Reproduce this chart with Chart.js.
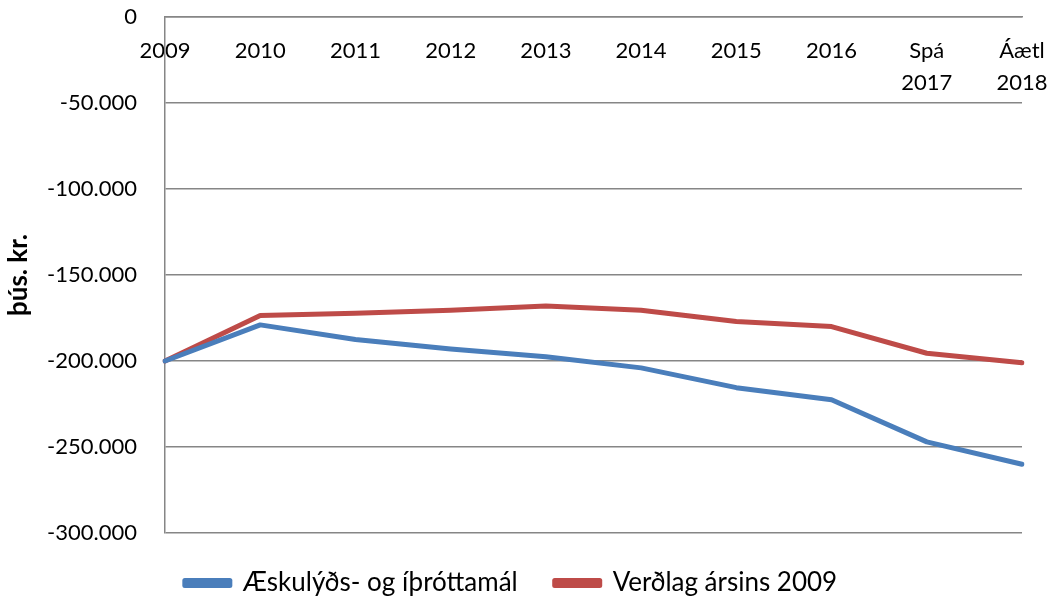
<!DOCTYPE html>
<html>
<head>
<meta charset="utf-8">
<script src="https://cdn.jsdelivr.net/npm/chart.js@4"></script>
<style>
  html, body { margin: 0; padding: 0; background: #fff; }
  #wrap { width: 1051px; height: 600px; }
</style>
</head>
<body>
<div id="wrap"><canvas id="c" width="1051" height="600"></canvas></div>
<script>
const categories = ['2009', '2010', '2011', '2012', '2013', '2014', '2015', '2016', ['Spá', '2017'], ['Áætl', '2018']];
const seriesNames = ['Æskulýðs- og íþróttamál', 'Verðlag ársins 2009'];
const youthSports = [-200000, -179000, -187500, -193000, -197500, -204000, -215500, -222500, -247000, -260000];
const realPrices2009 = [-200000, -173500, -172300, -170500, -168000, -170500, -177000, -180000, -195500, -201000];
const yTicks = [0, -50000, -100000, -150000, -200000, -250000, -300000];
const yTitle = 'þús. kr.';

const FONT = 'Lato, "Open Sans", sans-serif';
const GRID = '#868686';

function fmt(v) {
  const s = Math.abs(v).toString().replace(/\B(?=(\d{3})+(?!\d))/g, '.');
  return (v < 0 ? '-' : '') + s;
}

new Chart(document.getElementById('c'), {
  type: 'line',
  data: {
    labels: categories,
    datasets: [
      { label: seriesNames[0], data: youthSports, borderColor: '#4A7EBB', backgroundColor: '#4A7EBB', borderWidth: 5, pointRadius: 0, tension: 0, borderCapStyle: 'round', borderJoinStyle: 'round' },
      { label: seriesNames[1], data: realPrices2009, borderColor: '#BE4B48', backgroundColor: '#BE4B48', borderWidth: 5, pointRadius: 0, tension: 0, borderCapStyle: 'round', borderJoinStyle: 'round' }
    ]
  },
  options: {
    responsive: false,
    animation: false,
    layout: { padding: { left: 0, right: 29, top: 17, bottom: -6 } },
    plugins: {
      tooltip: { enabled: false },
      legend: {
        position: 'bottom',
        labels: {
          font: { family: FONT, size: 26 },
          color: '#000',
          boxWidth: 45,
          boxHeight: 5,
          padding: 37
        }
      }
    },
    scales: {
      x: {
        type: 'category',
        offset: false,
        position: { y: 0 },
        grid: { display: true, drawOnChartArea: false, drawTicks: true, tickLength: 18, tickColor: 'rgba(0,0,0,0)' },
        border: { display: true, color: GRID, width: 1.5 },
        ticks: {
          font: { family: FONT, size: 22, lineHeight: 1.45 },
          color: '#000',
          padding: 0,
          maxRotation: 0,
          autoSkip: false
        }
      },
      y: {
        min: -300000,
        max: 0,
        afterFit(scale) { scale.width = 165; },
        afterBuildTicks(scale) { scale.ticks = yTicks.map(v => ({ value: v })); },
        grid: { color: GRID, lineWidth: 1.5, drawTicks: true, tickLength: 28, tickColor: 'rgba(0,0,0,0)' },
        border: { display: true, color: GRID, width: 1.5 },
        ticks: {
          font: { family: FONT, size: 22 },
          color: '#000',
          padding: 0,
          callback: (v) => fmt(v)
        },
        title: {
          display: true,
          text: yTitle,
          font: { family: FONT, size: 26, weight: 'bold' },
          color: '#000',
          padding: { top: 3, bottom: 0 }
        }
      }
    }
  }
});
</script>
</body>
</html>
